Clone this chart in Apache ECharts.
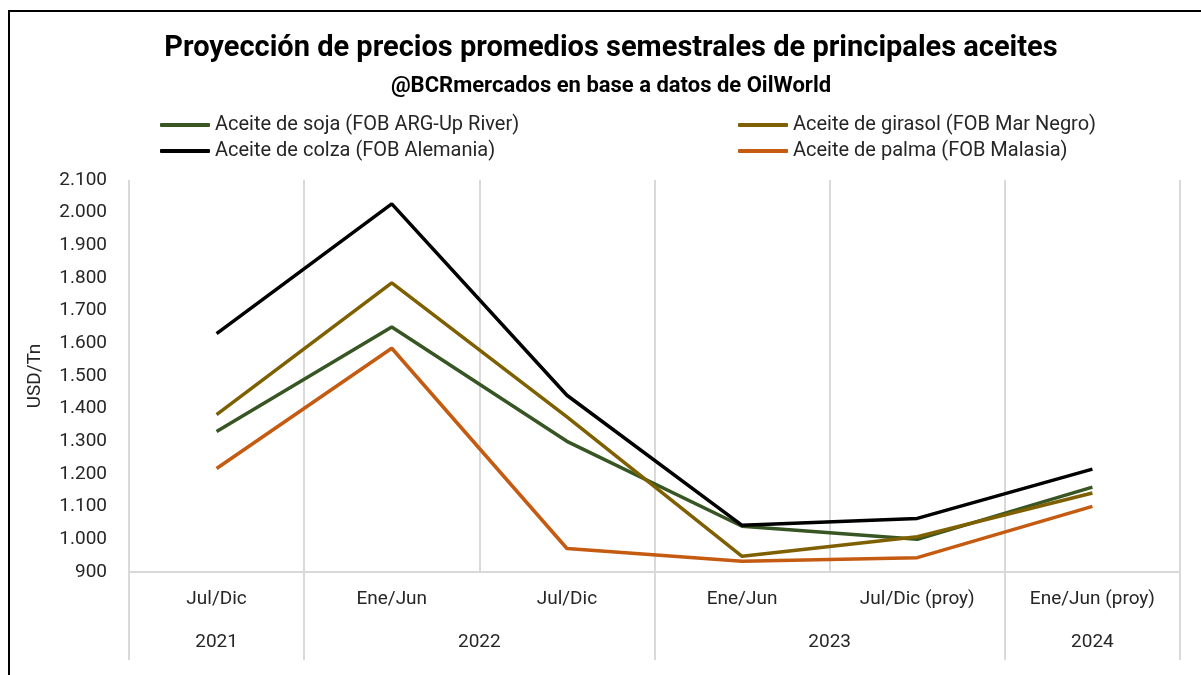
<!DOCTYPE html>
<html>
<head>
<meta charset="utf-8">
<title>Proyección de precios promedios semestrales de principales aceites</title>
<script src="https://cdn.jsdelivr.net/npm/echarts@6/dist/echarts.min.js"></script>
<style>
  html, body { margin: 0; padding: 0; background: #fff; overflow: hidden; }
  #frame { position: absolute; left: 8px; top: 10px; width: 1400px; height: 900px; border: 2px solid #000; }
  #chart { position: absolute; left: 0; top: 0; width: 1201px; height: 675px; }
</style>
</head>
<body>
<div id="frame"></div>
<div id="chart"></div>
<script>
// semestres (eje principal)
const semestres = ['Jul/Dic', 'Ene/Jun', 'Jul/Dic', 'Ene/Jun', 'Jul/Dic (proy)', 'Ene/Jun (proy)']
// años y cuántos semestres abarca cada uno
const anios = ['2021', '2022', '2023', '2024']
const semestresPorAnio = [1, 2, 2, 1]

// USD/Tn
const soja = [1330, 1650, 1300, 1040, 1000, 1160]
const girasol = [1382, 1785, 1375, 948, 1008, 1142]
const colza = [1630, 2027, 1441, 1043, 1064, 1215]
const palma = [1217, 1585, 972, 933, 944, 1101]

const yMin = 900
const yMax = 2100
const yInterval = 100

const nombres = {
  soja: 'Aceite de soja (FOB ARG-Up River)',
  girasol: 'Aceite de girasol (FOB Mar Negro)',
  colza: 'Aceite de colza (FOB Alemania)',
  palma: 'Aceite de palma (FOB Malasia)'
}

// separadores y centros de los años para el segundo nivel del eje
const limites = [0]
const centros = []
semestresPorAnio.forEach(n => {
  const ini = limites[limites.length - 1]
  centros.push(ini + n / 2)
  limites.push(ini + n)
})

const fuente = 'Roboto'
const gris = '#d9d9d9'
const texto = '#262626'

function miles(v) {
  return String(v).replace(/\B(?=(\d{3})+(?!\d))/g, '.')
}

const chart = echarts.init(document.getElementById('chart'))

const legendBase = {
  orient: 'vertical',
  top: 110,
  icon: 'roundRect',
  itemWidth: 50,
  itemHeight: 4,
  itemGap: 6,
  textStyle: { fontFamily: fuente, fontSize: 20, color: texto }
}

chart.setOption({
  backgroundColor: 'transparent',
  animation: false,
  title: [{
    text: 'Proyección de precios promedios semestrales de principales aceites',
    left: 606,
    textAlign: 'center',
    top: 29,
    textStyle: { fontFamily: fuente, fontSize: 29, fontWeight: 'bold', color: '#000' }
  }, {
    text: '@BCRmercados en base a datos de OilWorld',
    left: 606,
    textAlign: 'center',
    top: 70,
    textStyle: { fontFamily: fuente, fontSize: 22, fontWeight: 'bold', color: '#000' }
  }],
  legend: [
    Object.assign({}, legendBase, { left: 155, data: [nombres.soja, nombres.colza] }),
    Object.assign({}, legendBase, { left: 733, data: [nombres.girasol, nombres.palma] })
  ],
  grid: {
    left: 129,
    right: 21,
    top: 180,
    bottom: 103
  },
  xAxis: [{
    type: 'category',
    data: semestres,
    boundaryGap: true,
    axisLine: { lineStyle: { color: gris, width: 2 } },
    axisTick: { show: false },
    axisLabel: { fontFamily: fuente, fontSize: 19, color: texto, margin: 18 },
    splitLine: { show: true, lineStyle: { color: gris, width: 2 } }
  }, {
    type: 'value',
    position: 'bottom',
    offset: 88,
    min: 0,
    max: semestres.length,
    axisLine: { show: false },
    splitLine: { show: false },
    axisTick: {
      show: true,
      inside: true,
      length: 88,
      customValues: limites,
      lineStyle: { color: gris, width: 2 }
    },
    axisLabel: {
      inside: true,
      margin: 8,
      customValues: centros,
      fontFamily: fuente,
      fontSize: 19,
      color: texto,
      formatter: v => anios[centros.indexOf(v)]
    }
  }],
  yAxis: {
    type: 'value',
    min: yMin,
    max: yMax,
    interval: yInterval,
    name: 'USD/Tn',
    nameLocation: 'middle',
    nameGap: 84,
    nameTextStyle: { fontFamily: fuente, fontSize: 19, color: texto },
    axisLine: { show: false },
    axisTick: { show: false },
    splitLine: { show: false },
    axisLabel: { fontFamily: fuente, fontSize: 19, color: texto, margin: 22, formatter: miles }
  },
  series: [
    { name: nombres.palma, data: palma, color: '#c55a11' },
    { name: nombres.soja, data: soja, color: '#375623' },
    { name: nombres.girasol, data: girasol, color: '#7f6000' },
    { name: nombres.colza, data: colza, color: '#000000' }
  ].map(s => ({
    name: s.name,
    type: 'line',
    xAxisIndex: 0,
    data: s.data,
    symbol: 'none',
    itemStyle: { color: s.color },
    lineStyle: { color: s.color, width: 3.5 }
  }))
})
</script>
</body>
</html>
